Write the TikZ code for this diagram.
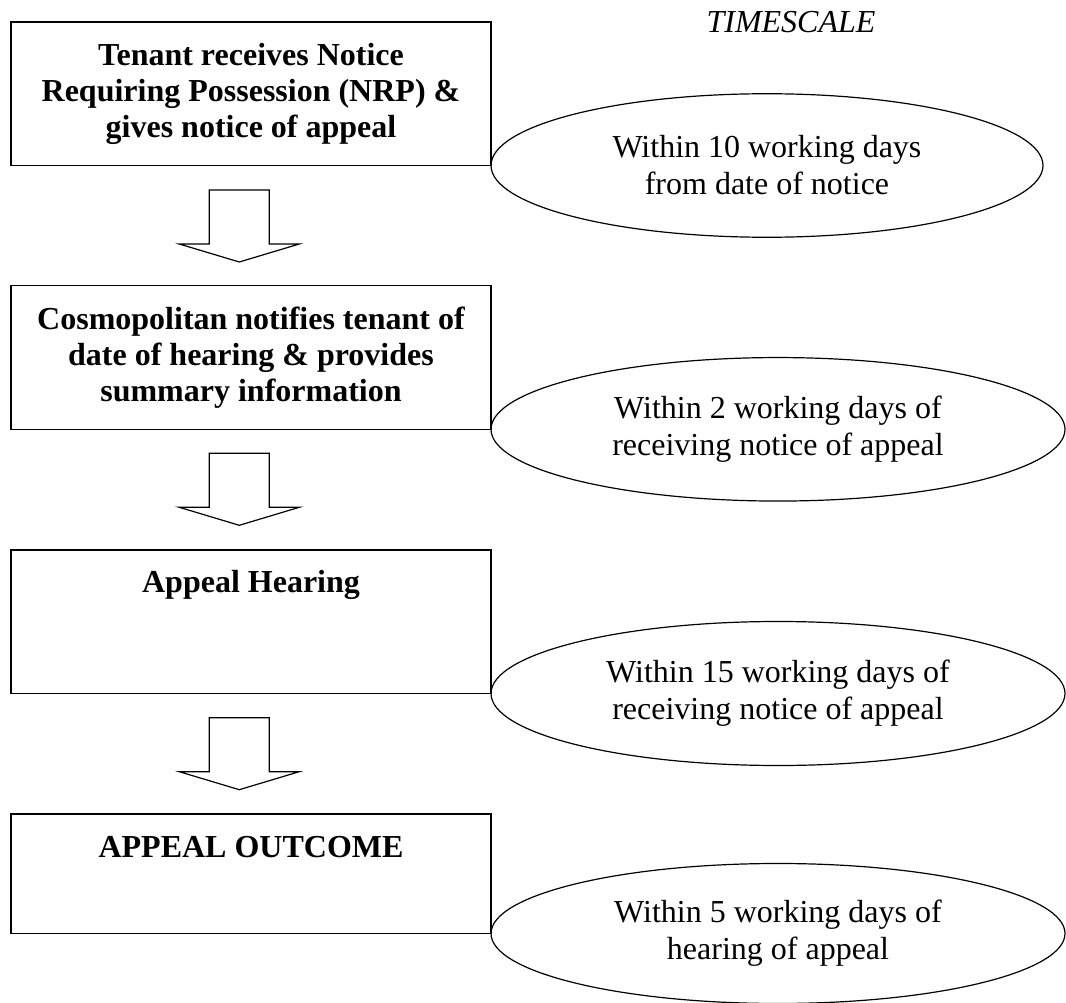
\documentclass[tikz,border=0pt]{standalone}
\usepackage{fontspec}
\setmainfont{Liberation Serif}
\usetikzlibrary{shapes.geometric}
\begin{document}
\begin{tikzpicture}[x=1pt,y=-1pt,
  stepbox/.style={draw,line width=1.6pt,inner sep=0pt,align=center,
    font=\fontsize{32}{36}\selectfont\bfseries},
  boxtext/.style={inner sep=0pt,align=center,font=\fontsize{32}{36}\selectfont\bfseries},
  timebox/.style={draw,ellipse,line width=1.2pt,inner sep=0pt,align=center,
    font=\fontsize{32}{37}\selectfont},
  blockarrow/.style={draw,line width=1.2pt,line join=miter}]
\clip (0,0) rectangle (1066,1003);
\fill[white] (0,0) rectangle (1066,1003);

% timescale heading
\node[inner sep=0pt,font=\fontsize{32}{38}\selectfont\itshape] (ts) at (791,21.7) {TIMESCALE};

% ellipses
\node[timebox,minimum width=552pt,minimum height=143.5pt] (e1) at (767,165.5)
  {Within 10 working days\\from date of notice};
\node[timebox,minimum width=574pt,minimum height=143.5pt] (e2) at (778,429.3)
  {Within 2 working days of\\receiving notice of appeal};
\node[timebox,minimum width=574pt,minimum height=144pt] (e3) at (778,693.5)
  {Within 15 working days of\\receiving notice of appeal};
\node[timebox,minimum width=574pt,minimum height=140pt] (e4) at (778,933.5)
  {Within 5 working days of\\hearing of appeal};

% boxes
\node[stepbox,minimum width=480pt,minimum height=143.5pt] (b1) at (251,93.75)
  {Tenant receives Notice\\Requiring Possession (NRP) \&\\gives notice of appeal};
\node[stepbox,minimum width=480pt,minimum height=143.6pt] (b2) at (251,357.5)
  {\raisebox{2.5pt}{\parbox{480pt}{\centering Cosmopolitan notifies tenant of\\date of hearing \& provides\\summary information}}};
\node[stepbox,minimum width=480pt,minimum height=143.5pt] (b3) at (251,621.75) {};
\node[boxtext] (t3) at (251,585) {Appeal Hearing};
\node[stepbox,minimum width=480pt,minimum height=119.5pt] (b4) at (251,873.75) {};
\node[boxtext] (t4) at (251,847) {APPEAL OUTCOME};

% block arrows
\coordinate (a1) at (239.3,190);
\coordinate (a2) at (239.3,453.3);
\coordinate (a3) at (239.3,717.7);
\foreach \a in {a1,a2,a3}{
  \draw[blockarrow] (\a) ++(-30,0) -- ++(60,0) -- ++(0,54) -- ++(30,0)
    -- ++(-60,18) -- ++(-60,-18) -- ++(30,0) -- cycle;
}
\end{tikzpicture}
\end{document}
